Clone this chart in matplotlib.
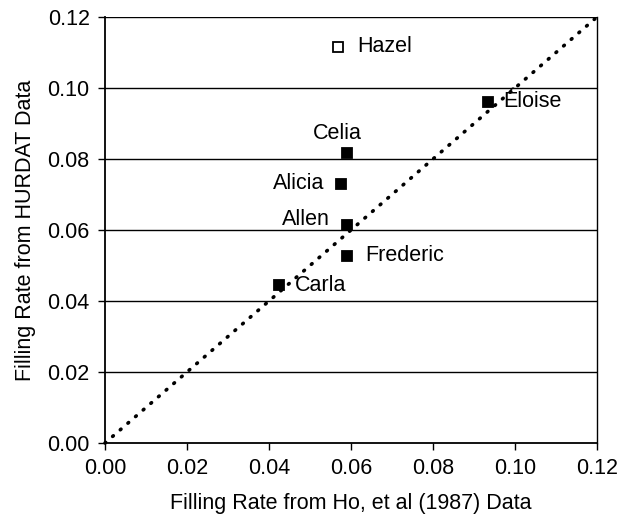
import matplotlib
matplotlib.use("Agg")
import matplotlib.pyplot as plt
import numpy as np

plt.rcParams['font.family'] = ['Liberation Sans', 'DejaVu Sans']

names = ["Hazel", "Celia", "Alicia", "Allen", "Frederic", "Carla", "Éloise"]
ho_rate = [0.0568, 0.0590, 0.0575, 0.0590, 0.0591, 0.0425, 0.0934]
hurdat_rate = [0.1116, 0.0818, 0.0730, 0.0614, 0.0527, 0.0445, 0.0961]
hollow = [True, False, False, False, False, False, False]
ticks = [0.00, 0.02, 0.04, 0.06, 0.08, 0.10, 0.12]

FS = 15.5

# label offsets (points) and alignment
label_pos = {
    "Hazel": ((14, 0), "left", "center"),
    "Celia": ((-7, 6), "center", "bottom"),
    "Alicia": ((-12, 0), "right", "center"),
    "Allen": ((-12, 4), "right", "center"),
    "Frederic": ((13, 0), "left", "center"),
    "Carla": ((11, 0), "left", "center"),
    "Éloise": ((11, 0), "left", "center"),
}

fig = plt.figure(figsize=(6.21, 5.27), dpi=100)
ax = fig.add_axes([105/621, 1-443/527, (597-105)/621, (443-17)/527])

for t in ticks[1:]:
    ax.axhline(t, color="black", lw=1.0, zorder=1)

ax.plot([0, 0.12], [0, 0.12], linestyle=(0, (0.25, 2.55)), color="black", lw=2.6,
        dash_capstyle="round", zorder=2, clip_on=False)

for n, x, y, h in zip(names, ho_rate, hurdat_rate, hollow):
    ax.plot([x], [y], marker="s", markersize=7.0,
            markerfacecolor="white" if h else "black", markeredgecolor="black",
            markeredgewidth=1.3, linestyle="none", zorder=3)
    off, ha, va = label_pos[n]
    ax.annotate(n, (x, y), xytext=off, textcoords="offset points",
                ha=ha, va=va, fontsize=FS, zorder=4)

ax.set_xlim(0, 0.12)
ax.set_ylim(0, 0.12)
ax.set_xticks(ticks)
ax.set_yticks(ticks)
ax.set_xticklabels([f"{t:.2f}" for t in ticks])
ax.set_yticklabels([f"{t:.2f}" for t in ticks])
ax.tick_params(direction="out", length=5, width=1, labelsize=FS, pad=6)
ax.spines["top"].set_visible(False)
ax.spines["right"].set_linewidth(1.0)
for s in ["left", "bottom"]:
    ax.spines[s].set_linewidth(1.3)

ax.set_xlabel("Filling Rate from Ho, et al (1987) Data", fontsize=FS, labelpad=10)
ax.set_ylabel("Filling Rate from HURDAT Data", fontsize=FS, labelpad=8)

fig.savefig("out.png", dpi=100)
